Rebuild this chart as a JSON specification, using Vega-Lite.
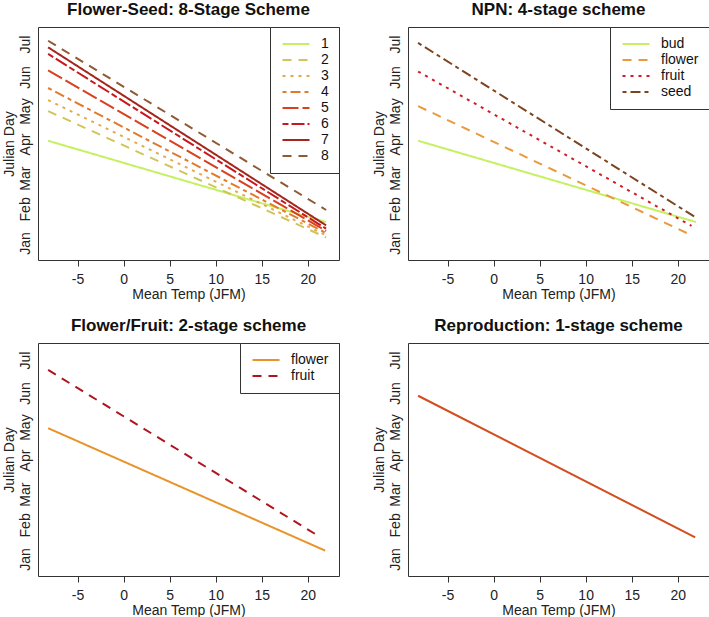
{
  "$schema": "https://vega.github.io/schema/vega-lite/v6.json",
  "padding": {"left": 1, "top": 0, "right": 0, "bottom": 0},
  "columns": 2,
  "spacing": {"row": 14, "column": 31},
  "resolve": {
    "scale": {"color": "independent", "strokeDash": "independent"},
    "legend": {"color": "independent", "strokeDash": "independent"}
  },
  "datasets": {
    "eight": [
      {"stage": "1", "temp": -8.2, "day": 94}, {"stage": "1", "temp": 22, "day": 20},
      {"stage": "2", "temp": -8.2, "day": 121}, {"stage": "2", "temp": 22, "day": 6},
      {"stage": "3", "temp": -8.2, "day": 131}, {"stage": "3", "temp": 22, "day": 8},
      {"stage": "4", "temp": -8.2, "day": 142}, {"stage": "4", "temp": 22, "day": 10},
      {"stage": "5", "temp": -8.2, "day": 158}, {"stage": "5", "temp": 22, "day": 12},
      {"stage": "6", "temp": -8.2, "day": 173}, {"stage": "6", "temp": 22, "day": 14},
      {"stage": "7", "temp": -8.2, "day": 179}, {"stage": "7", "temp": 22, "day": 17},
      {"stage": "8", "temp": -8.2, "day": 185}, {"stage": "8", "temp": 22, "day": 31}
    ],
    "npn": [
      {"stage": "bud", "temp": -8.2, "day": 94}, {"stage": "bud", "temp": 22, "day": 20},
      {"stage": "flower", "temp": -8.2, "day": 125.5}, {"stage": "flower", "temp": 21.5, "day": 8},
      {"stage": "fruit", "temp": -8.2, "day": 157}, {"stage": "fruit", "temp": 21.5, "day": 16.5},
      {"stage": "seed", "temp": -8.2, "day": 183}, {"stage": "seed", "temp": 22, "day": 24}
    ],
    "two": [
      {"stage": "flower", "temp": -8.2, "day": 120}, {"stage": "flower", "temp": 21.9, "day": 8.6},
      {"stage": "fruit", "temp": -8.2, "day": 173}, {"stage": "fruit", "temp": 21.4, "day": 20.7}
    ],
    "one": [
      {"stage": "reproduction", "temp": -8.2, "day": 149.5}, {"stage": "reproduction", "temp": 21.9, "day": 20.7}
    ]
  },
  "concat": [
    {
      "title": "Flower-Seed: 8-Stage Scheme",
      "width": 301, "height": 233,
      "data": {"name": "eight"},
      "mark": {"type": "line", "strokeWidth": 2, "strokeCap": "butt"},
      "encoding": {
        "x": {"field": "temp", "type": "quantitative", "scale": {"domain": [-9.3, 23.4], "nice": false, "zero": false}, "axis": {"values": [-5, 0, 5, 10, 15, 20], "title": "Mean Temp (JFM)"}},
        "y": {"field": "day", "type": "quantitative", "scale": {"domain": [-14.5, 197.5], "nice": false, "zero": false}, "axis": {"values": [1, 32, 60, 91, 121, 152, 182], "title": "Julian Day"}},
        "color": {"field": "stage", "type": "nominal", "scale": {"domain": ["1", "2", "3", "4", "5", "6", "7", "8"], "range": ["#c5f062", "#d2c45a", "#e6a84a", "#e27a2c", "#d9401e", "#c8181e", "#a3261c", "#8f5a36"]}, "legend": {"title": null}},
        "strokeDash": {"field": "stage", "type": "nominal", "scale": {"domain": ["1", "2", "3", "4", "5", "6", "7", "8"], "range": [[1, 0], [9, 7], [3, 5], [4, 4, 10, 4], [16, 4], [6, 3, 13, 3], [1, 0], [9, 7]]}, "legend": {"title": null}}
      }
    },
    {
      "title": "NPN: 4-stage scheme",
      "width": 301, "height": 233,
      "data": {"name": "npn"},
      "mark": {"type": "line", "strokeWidth": 2, "strokeCap": "butt"},
      "encoding": {
        "x": {"field": "temp", "type": "quantitative", "scale": {"domain": [-9.3, 23.4], "nice": false, "zero": false}, "axis": {"values": [-5, 0, 5, 10, 15, 20], "title": "Mean Temp (JFM)"}},
        "y": {"field": "day", "type": "quantitative", "scale": {"domain": [-14.5, 197.5], "nice": false, "zero": false}, "axis": {"values": [1, 32, 60, 91, 121, 152, 182], "title": "Julian Day"}},
        "color": {"field": "stage", "type": "nominal", "scale": {"domain": ["bud", "flower", "fruit", "seed"], "range": ["#c5f062", "#e89a3c", "#d01e24", "#7e4420"]}, "legend": {"title": null}},
        "strokeDash": {"field": "stage", "type": "nominal", "scale": {"domain": ["bud", "flower", "fruit", "seed"], "range": [[1, 0], [9, 7], [3, 5], [4, 4, 10, 4]]}, "legend": {"title": null}}
      }
    },
    {
      "title": "Flower/Fruit: 2-stage scheme",
      "width": 301, "height": 233,
      "data": {"name": "two"},
      "mark": {"type": "line", "strokeWidth": 2, "strokeCap": "butt"},
      "encoding": {
        "x": {"field": "temp", "type": "quantitative", "scale": {"domain": [-9.3, 23.4], "nice": false, "zero": false}, "axis": {"values": [-5, 0, 5, 10, 15, 20], "title": "Mean Temp (JFM)"}},
        "y": {"field": "day", "type": "quantitative", "scale": {"domain": [-14.5, 197.5], "nice": false, "zero": false}, "axis": {"values": [1, 32, 60, 91, 121, 152, 182], "title": "Julian Day"}},
        "color": {"field": "stage", "type": "nominal", "scale": {"domain": ["flower", "fruit"], "range": ["#e8942a", "#b0151f"]}, "legend": {"title": null}},
        "strokeDash": {"field": "stage", "type": "nominal", "scale": {"domain": ["flower", "fruit"], "range": [[1, 0], [9, 7]]}, "legend": {"title": null}}
      }
    },
    {
      "title": "Reproduction: 1-stage scheme",
      "width": 301, "height": 233,
      "data": {"name": "one"},
      "mark": {"type": "line", "strokeWidth": 2, "strokeCap": "butt", "color": "#d24e1e"},
      "encoding": {
        "x": {"field": "temp", "type": "quantitative", "scale": {"domain": [-9.3, 23.4], "nice": false, "zero": false}, "axis": {"values": [-5, 0, 5, 10, 15, 20], "title": "Mean Temp (JFM)"}},
        "y": {"field": "day", "type": "quantitative", "scale": {"domain": [-14.5, 197.5], "nice": false, "zero": false}, "axis": {"values": [1, 32, 60, 91, 121, 152, 182], "title": "Julian Day"}}
      }
    }
  ],
  "config": {
    "font": "Liberation Sans",
    "view": {"stroke": "#333", "strokeWidth": 1},
    "title": {"fontSize": 17, "fontWeight": "bold", "anchor": "middle", "frame": "group", "offset": 8, "color": "#111"},
    "axis": {"grid": false, "domain": false, "labelFontSize": 14, "titleFontSize": 14, "titleFontWeight": "normal", "labelColor": "#222", "titleColor": "#222", "tickColor": "#333"},
    "axisX": {"tickSize": 6, "labelPadding": 6, "titlePadding": 1, "labelAngle": 0, "labelExpr": "replace(datum.label, '−', '-')"},
    "axisY": {"ticks": false, "labelAngle": 270, "labelPadding": 6, "titlePadding": 2,
      "labelExpr": "datum.value < 15 ? 'Jan' : datum.value < 45 ? 'Feb' : datum.value < 75 ? 'Mar' : datum.value < 105 ? 'Apr' : datum.value < 135 ? 'May' : datum.value < 165 ? 'Jun' : 'Jul'"},
    "legend": {"orient": "top-right", "offset": 0, "strokeColor": "#333", "fillColor": "white", "padding": 10, "symbolType": "M-1,0H5", "symbolSize": 81, "symbolStrokeWidth": 2, "labelFontSize": 14, "labelColor": "#111", "rowPadding": 2, "labelOffset": 27, "cornerRadius": 0}
  }
}
